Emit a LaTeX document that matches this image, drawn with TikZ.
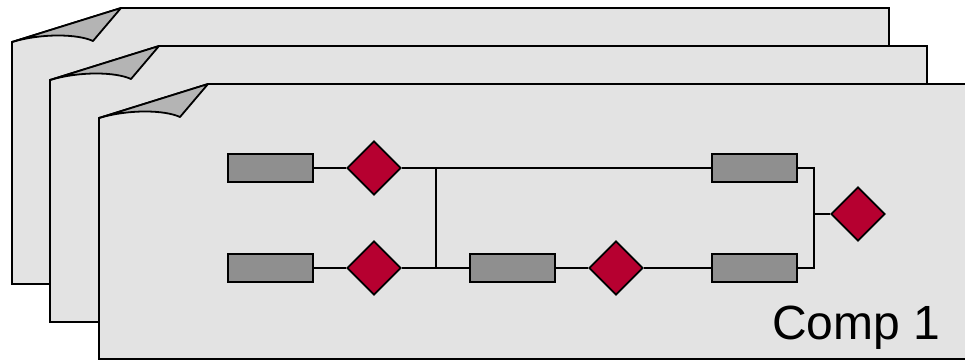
\documentclass[tikz,border=0pt]{standalone}
\usepackage{fontspec}
\setmainfont{Liberation Sans}
\usepackage{xcolor}
\usetikzlibrary{shapes.geometric}

\definecolor{pagegray}{RGB}{227,227,227}
\definecolor{flapgray}{RGB}{180,180,180}
\definecolor{boxgray}{RGB}{143,143,143}
\definecolor{gatered}{RGB}{182,0,48}

\begin{document}
\begin{tikzpicture}[x=1pt, y=-1pt,
    block/.style={draw, line width=1.8pt, fill=boxgray, minimum width=85pt, minimum height=28pt, inner sep=0pt},
    gate/.style={draw, line width=1.8pt, fill=gatered, diamond, minimum width=54pt, minimum height=54pt, inner sep=0pt},
    wire/.style={line width=1.8pt}]
            %% 定义paper命令（带折角的纸）
            \newcommand{\paper}[4]{
            \draw[line width=1.8pt, fill=pagegray]
                (#1, #2)
                --(#1+109, #2-34)
                --(#3, #2-34)
                --(#3, #4)
                --(#1, #4)
                --cycle;
            \draw[line width=1.8pt, fill=flapgray, line join=round]
                (#1, #2) .. controls (#1+30, #2-9) and (#1+66, #2-8) .. (#1+81, #2-1)
                --(#1+109, #2-34)
                --cycle;
            }
            \useasboundingbox (0, 0) rectangle (965, 361);
            \clip (0, 0) rectangle (965, 361);

            %% 三张叠放的纸
            \paper{12}{42}{889}{284};
            \paper{50}{80}{927}{322};
            \paper{99}{118}{990}{359};

            %% 方块与菱形
            \node[block] (inA) at (270.5, 168) {};
            \node[block] (inB) at (270.5, 268) {};
            \node[gate] (gA) at (374, 168) {};
            \node[gate] (gB) at (374, 268) {};
            \node[block] (mid) at (512.5, 268) {};
            \node[gate] (gC) at (616, 268) {};
            \node[block] (outA) at (754.5, 168) {};
            \node[block] (outB) at (754.5, 268) {};
            \node[gate] (gD) at (858, 214) {};

            %% 连接点
            \coordinate (jA) at (436, 168);
            \coordinate (jB) at (436, 268);
            \coordinate (kA) at (814, 168);
            \coordinate (kB) at (814, 268);
            \coordinate (kM) at (814, 214);

            %% 连线
            \draw[wire] (inA) -- (gA);
            \draw[wire] (inB) -- (gB);
            \draw[wire] (gA) -- (outA);
            \draw[wire] (gB) -- (mid);
            \draw[wire] (jA) -- (jB);
            \draw[wire] (mid) -- (gC);
            \draw[wire] (gC) -- (outB);
            \draw[wire] (outA.east) -- (kA) -- (kB) -- (outB.east);
            \draw[wire] (kM) -- (gD);

            \node[anchor=base west, inner sep=0pt, font=\fontsize{48}{48}\selectfont] (name) at (772, 339) {Comp 1};
\end{tikzpicture}
\end{document}
